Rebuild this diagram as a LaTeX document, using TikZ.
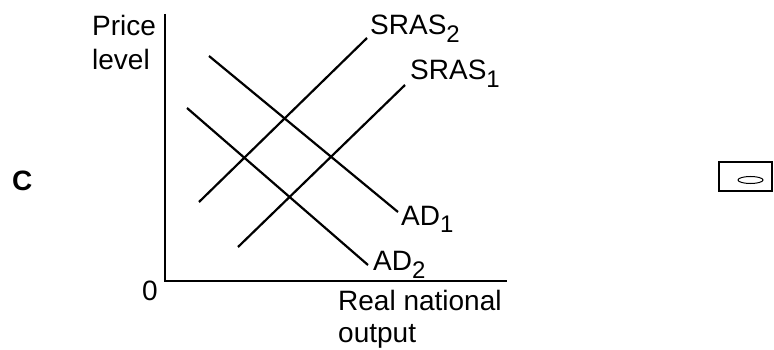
\documentclass[tikz,border=0pt]{standalone}
\usepackage{fontspec}
\setmainfont{Liberation Sans}
\usetikzlibrary{positioning}
\newcommand{\lowidx}[1]{\raisebox{-8pt}{\fontsize{24}{24}\selectfont #1}}

\begin{document}
\begin{tikzpicture}[
		x=1pt, y=-1pt,
		font=\fontsize{28}{34}\selectfont,
		curve/.style={line width=2.2pt},
		axis/.style={line width=2pt},
		lab/.style={anchor=base west, inner sep=0pt}
		]
		\useasboundingbox (0,0) rectangle (774,350);
		
		% Option letter
		\node[lab, font=\fontsize{28}{34}\selectfont\bfseries] (optC) at (12,190) {C};
		
		% Axes
		\coordinate (O) at (165,281);
		\coordinate (ytop) at (165,14);
		\coordinate (xend) at (507,281);
		\draw[axis] (ytop) -- (O) -- (xend);
		\node[anchor=base, inner sep=0pt] (zero) at (150,300) {0};
		\node[lab, align=left] (ylab) at (92,70) {Price\\level};
		\node[lab, align=left, font=\fontsize{28}{32}\selectfont] (xlab) at (338,342) {Real national\\output};
		
		% Supply curves
		\coordinate (s2a) at (199,202);
		\coordinate (s2b) at (367,38);
		\coordinate (s1a) at (238,247);
		\coordinate (s1b) at (405,85);
		\draw[curve] (s2a) -- (s2b);
		\draw[curve] (s1a) -- (s1b);
		\node[lab] (s2lab) at (370,35) {SRAS\lowidx{2}};
		\node[lab] (s1lab) at (410,80) {SRAS\lowidx{1}};
		
		% Demand curves
		\coordinate (d1a) at (209,56);
		\coordinate (d1b) at (398,212);
		\coordinate (d2a) at (187,108);
		\coordinate (d2b) at (368,265);
		\draw[curve] (d1a) -- (d1b);
		\draw[curve] (d2a) -- (d2b);
		\node[lab] (d1lab) at (401,225) {AD\lowidx{1}};
		\node[lab] (d2lab) at (373,270) {AD\lowidx{2}};
		
		% Answer box
		\node[draw, line width=2pt, minimum width=53pt, minimum height=29pt, inner sep=0pt] (ansbox) at (745.5,176.5) {};
		\coordinate (oval) at (750.5,180);
		\draw[line width=1pt] (oval) ellipse [x radius=12.5pt, y radius=3.5pt];
		
	\end{tikzpicture}
\end{document}
